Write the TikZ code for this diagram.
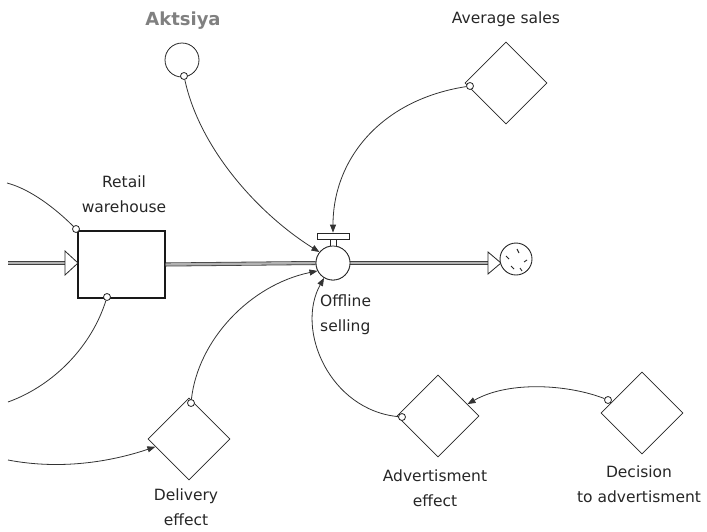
\documentclass[tikz,border=0pt]{standalone}
\usepackage{fontspec}
\setmainfont{DejaVu Sans}
\usetikzlibrary{shapes.geometric,arrows.meta,calc}
\begin{document}
\begin{tikzpicture}[x=1pt,y=-1pt,
  lbl/.style={font=\fontsize{15.5}{25}\selectfont, text=black!85, align=center, inner sep=0pt},
  auxv/.style={diamond, draw=black!85, fill=white, line width=0.8pt, minimum width=82pt, minimum height=82pt, inner sep=0pt},
  smallc/.style={circle, draw=black!85, fill=white, line width=0.8pt, minimum size=7pt, inner sep=0pt},
  link/.style={draw=black!80, line width=0.8pt, -{Triangle[length=8pt,width=6pt]}},
  linkn/.style={draw=black!80, line width=0.8pt},
  pipe/.style={draw=black!75, double=black!30, double distance=2.4pt, line width=0.8pt},
  flowtip/.style={draw=black!85, fill=white, line width=0.8pt, line join=miter},
  bigc/.style={circle, draw=black!85, fill=white, line width=0.8pt, inner sep=0pt},
]
\useasboundingbox (0,0) rectangle (707,531);

% ---- flow endpoints
\coordinate (src) at (8,263);
\coordinate (intip) at (65,263);
\coordinate (outtip) at (488,263);

% ---- main shapes
\node[draw=black!90, fill=white, line width=1.1pt, minimum width=87pt, minimum height=67pt, inner sep=0pt] (wh) at (121.5,264.5) {};
\node[bigc, minimum size=34pt] (valve) at (333,263) {};
\node[bigc, minimum size=34pt] (akt) at (182,60) {};
\node[circle, minimum size=32pt, inner sep=0pt] (cloud) at (516,259) {};

\node[auxv] (as) at (506,83) {};
\node[auxv] (de) at (189,439) {};
\node[auxv] (ae) at (438,416) {};
\node[auxv] (dec) at (642,413) {};

% ---- pipes
\draw[pipe] (src) -- (intip);
\draw[pipe] (wh.east) -- (valve.west);
\draw[pipe] (valve.east) -- (outtip);
\draw[flowtip] (65,251) -- (78,263) -- (65,275) -- cycle;
\draw[flowtip] (488,252) -- (501,263) -- (488,274) -- cycle;

% ---- valve handle
\node[draw=black!85, fill=white, line width=0.8pt, minimum width=6pt, minimum height=8pt, inner sep=0pt] (vstem) at (333,242) {};
\node[draw=black!85, fill=white, line width=0.8pt, minimum width=32pt, minimum height=6pt, inner sep=0pt] (vbar) at (333,236) {};
\node[bigc, minimum size=34pt] at (valve) {};

% ---- cloud
\draw[draw=black!85, line width=0.9pt, fill=white] (cloud) circle[radius=16pt];
\draw[black!85, line width=0.9pt]
  (517,249) -- (519,253)
  (506,256) -- (509,259)
  (524,262) -- (527,260)
  (511,266) -- (514,269)
  (520,268) -- (522,271);

% ---- small connector circles
\node[smallc] (c1) at (76,229) {};
\node[smallc] (c2) at (107,297) {};
\node[smallc] (c3) at (184,76) {};
\node[smallc] (c4) at (191,403) {};
\node[smallc] (c5) at (470,86) {};
\node[smallc] (c6) at (402,417) {};
\node[smallc] (c7) at (608,400) {};

\coordinate (f1) at (7,183);
\coordinate (f2) at (8,402);
\coordinate (f3) at (8,460);

% ---- connectors
\draw[linkn] (c1) .. controls (55,208) and (30,189) .. (f1);
\draw[linkn] (c2) .. controls (92,345) and (55,385) .. (f2);
\draw[link] (f3) .. controls (60,470) and (110,462) .. (de.193);
\draw[link] (c4) .. controls (198,340) and (250,285) .. (valve.207);
\draw[link] (c3) .. controls (200,150) and (260,215) .. (valve.141);
\draw[link] (c5) .. controls (380,100) and (333,160) .. (vbar.north);
\draw[link] (c6) .. controls (330,410) and (295,330) .. (valve.239);
\draw[link] (c7) .. controls (570,385) and (510,380) .. (ae.22);

% ---- labels
\node[font=\bfseries\fontsize{18}{20}\selectfont, text=black!50, inner sep=0pt] (lakt) at (183,21) {Aktsiya};
\node[lbl] (las) at (506,19) {Average sales};
\node[lbl] (lwh) at (124,194) {Retail\\warehouse};
\node[lbl, align=left, anchor=west] (lval) at (320,315) {Offline\\selling};
\node[lbl] (lde) at (186,507) {Delivery\\effect};
\node[lbl] (lae) at (435,488) {Advertisment\\effect};
\node[lbl] (ldec) at (639,484) {Decision\\to advertisment};
\end{tikzpicture}
\end{document}
